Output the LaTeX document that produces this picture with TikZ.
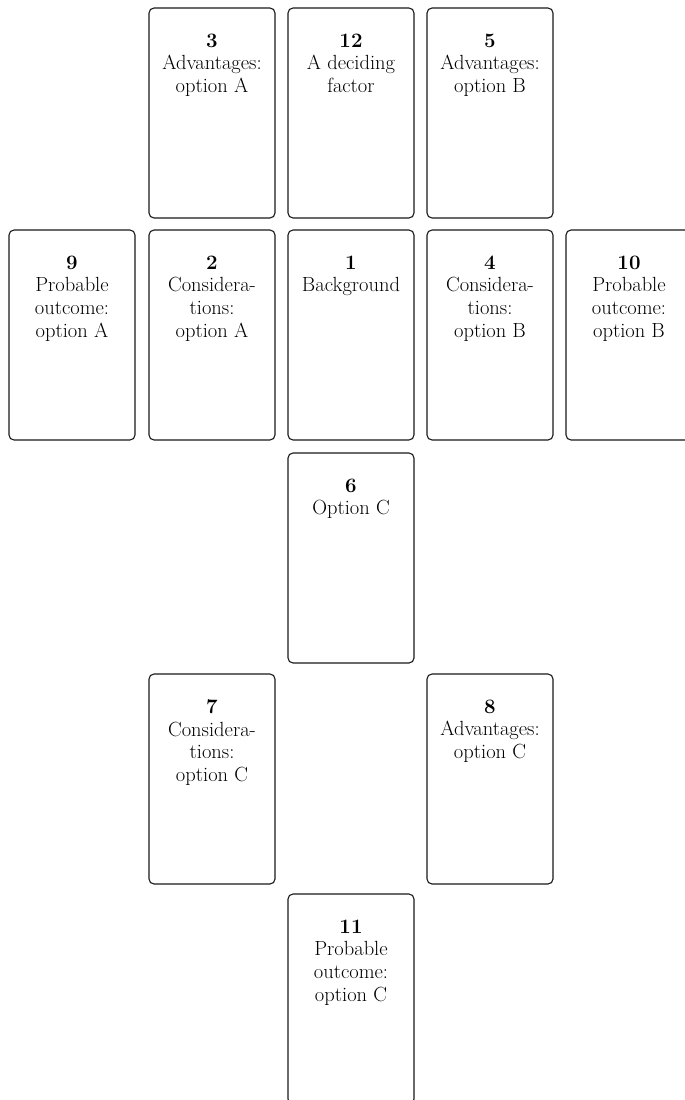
\documentclass[tikz,border=0pt]{standalone}
\begin{document}
\begin{tikzpicture}[x=1pt,y=-1pt,
  card/.style={draw=black!90,line width=1.1pt,rounded corners=5pt,minimum width=126pt,minimum height=210pt,inner sep=0pt,outer sep=0pt,anchor=north},
  lbl/.style={anchor=north,align=center,inner sep=0pt,font=\fontsize{20.5}{22.6}\selectfont}]
\useasboundingbox (0,0) rectangle (685,1100);
\clip (0,0) rectangle (685,1100);
% row 1
\node[card] (c3) at (212,8) {};
\node[card] (c12) at (351,8) {};
\node[card] (c5) at (490,8) {};
% row 2
\node[card] (c9) at (72,230) {};
\node[card] (c2) at (212,230) {};
\node[card] (c1) at (351,230) {};
\node[card] (c4) at (490,230) {};
\node[card] (c10) at (629,230) {};
% row 3
\node[card] (c6) at (351,453) {};
% row 4
\node[card] (c7) at (212,674) {};
\node[card] (c8) at (490,674) {};
% row 5
\node[card] (c11) at (351,894) {};
% texts
\node[lbl] (t3) at ([yshift=-25.6pt]c3.north) {\textbf{3}\\Advantages:\\option A};
\node[lbl] (t12) at ([yshift=-25.6pt]c12.north) {\textbf{12}\\A deciding\\factor};
\node[lbl] (t5) at ([yshift=-25.6pt]c5.north) {\textbf{5}\\Advantages:\\option B};
\node[lbl] (t9) at ([yshift=-25.6pt]c9.north) {\textbf{9}\\Probable\\outcome:\\option A};
\node[lbl] (t2) at ([yshift=-25.6pt]c2.north) {\textbf{2}\\Considera-\\tions:\\option A};
\node[lbl] (t1) at ([yshift=-25.6pt]c1.north) {\textbf{1}\\Background};
\node[lbl] (t4) at ([yshift=-25.6pt]c4.north) {\textbf{4}\\Considera-\\tions:\\option B};
\node[lbl] (t10) at ([yshift=-25.6pt]c10.north) {\textbf{10}\\Probable\\outcome:\\option B};
\node[lbl] (t6) at ([yshift=-25.6pt]c6.north) {\textbf{6}\\Option C};
\node[lbl] (t7) at ([yshift=-25.6pt]c7.north) {\textbf{7}\\Considera-\\tions:\\option C};
\node[lbl] (t8) at ([yshift=-25.6pt]c8.north) {\textbf{8}\\Advantages:\\option C};
\node[lbl] (t11) at ([yshift=-25.6pt]c11.north) {\textbf{11}\\Probable\\outcome:\\option C};
\end{tikzpicture}
\end{document}
